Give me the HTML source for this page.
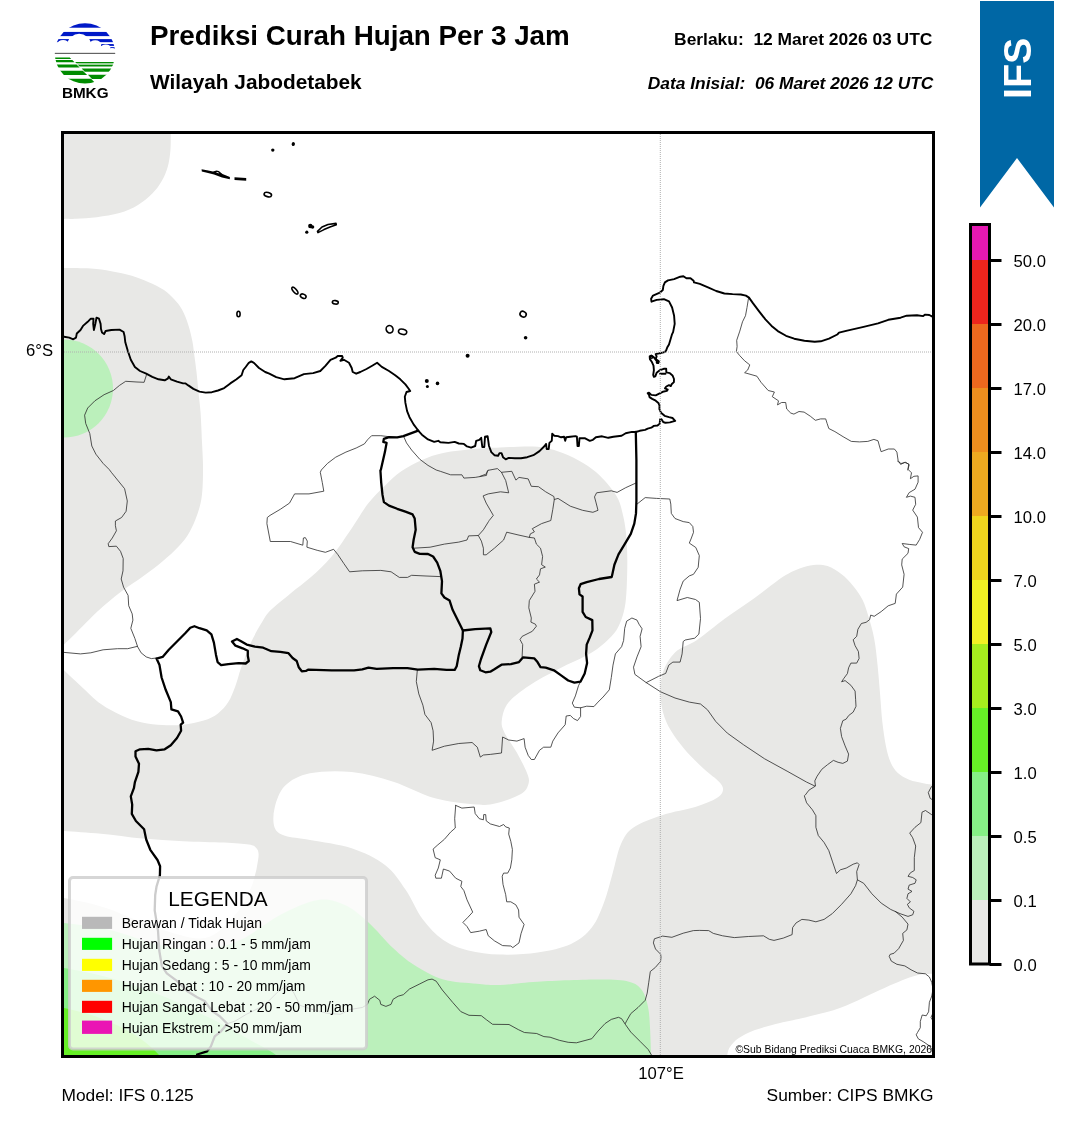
<!DOCTYPE html>
<html>
<head>
<meta charset="utf-8">
<title>Prediksi Curah Hujan Per 3 Jam</title>
<style>
html,body{margin:0;padding:0;background:#fff;}
body{width:1072px;height:1128px;overflow:hidden;font-family:"Liberation Sans",sans-serif;}
svg{display:block;}
text{font-family:"Liberation Sans",sans-serif;fill:#000;}
svg{will-change:transform;}
</style>
</head>
<body>
<svg width="1072" height="1128" viewBox="0 0 1072 1128">
<rect x="0" y="0" width="1072" height="1128" fill="#ffffff"/>

<!-- ===== HEADER TEXT ===== -->
<text x="150" y="45" font-size="27.78" font-weight="bold">Prediksi Curah Hujan Per 3 Jam</text>
<text x="150" y="88.7" font-size="20.83" font-weight="bold">Wilayah Jabodetabek</text>
<text x="932.4" y="44.6" font-size="17.42" font-weight="bold" text-anchor="end" xml:space="preserve">Berlaku:  12 Maret 2026 03 UTC</text>
<text x="933.4" y="89" font-size="17.36" font-weight="bold" font-style="italic" text-anchor="end" xml:space="preserve">Data Inisial:  06 Maret 2026 12 UTC</text>

<!-- ===== LOGO ===== -->
<g id="logo"><clipPath id="lgc"><circle cx="85.0" cy="53.4" r="30.2"/></clipPath>
<g clip-path="url(#lgc)">
<rect x="50.00" y="22.59" width="70.00" height="5.13" fill="#0019c8"/>
<rect x="50.00" y="31.92" width="70.00" height="4.20" fill="#0019c8"/>
<rect x="53.99" y="39.10" width="15.11" height="3.08" fill="#0019c8"/>
<rect x="88.97" y="39.10" width="31.03" height="3.08" fill="#0019c8"/>
<rect x="101.10" y="44.05" width="18.90" height="1.87" fill="#0019c8"/>
<rect x="109.96" y="47.13" width="10.04" height="1.59" fill="#0019c8"/>
<ellipse cx="79.20" cy="44.00" rx="11" ry="10.3" fill="#fff"/>
<ellipse cx="63.10" cy="44.60" rx="6" ry="4.6" fill="#fff"/>
<ellipse cx="95.20" cy="44.60" rx="6" ry="4.4" fill="#fff"/>
<ellipse cx="105.80" cy="47.80" rx="4.6" ry="3.4" fill="#fff"/>
<ellipse cx="112.00" cy="50.50" rx="3.5" ry="2.6" fill="#fff"/>
<polygon points="67.5,42.3 69.1,39.1 69.9,39.1 69.9,42.3" fill="#fff"/>
<polygon points="90.8,42.3 89.2,39.1 88.0,39.1 88.0,42.3" fill="#fff"/>
<rect x="50.00" y="52.82" width="70.00" height="1.12" fill="#5a5a5a"/>
<polygon points="50,57.57 69.77,57.57 71.27,59.07 50,59.07" fill="#008c00"/>
<polygon points="50,60.09 72.29,60.09 74.53,62.33 50,62.33" fill="#008c00"/>
<polygon points="50,64.38 76.58,64.38 79.66,67.46 50,67.46" fill="#008c00"/>
<polygon points="50,70.63 82.83,70.63 87.13,74.93 50,74.93" fill="#008c00"/>
<polygon points="50,78.84 91.04,78.84 96.83,84.63 50,84.63" fill="#008c00"/>
<polygon points="120,61.96 75.06,61.96 76.46,63.36 120,63.36" fill="#008c00"/>
<polygon points="120,63.54 76.64,63.54 77.95,64.85 120,64.85" fill="#7cc47c"/>
<polygon points="120,65.04 78.14,65.04 79.63,66.53 120,66.53" fill="#008c00"/>
<polygon points="120,68.58 81.68,68.58 84.76,71.66 120,71.66" fill="#008c00"/>
<polygon points="120,74.83 87.93,74.83 92.04,78.94 120,78.94" fill="#008c00"/>
</g>
<text x="85.2" y="97.7" font-size="15.28" font-weight="bold" text-anchor="middle">BMKG</text></g>

<!-- ===== BANNER ===== -->
<polygon points="980,1 1054,1 1054,207.5 1017,158 980,207.5" fill="#0067a5"/>
<text transform="translate(1030.6,68.3) rotate(-90)" font-size="39.5" font-weight="bold" text-anchor="middle" style="fill:#fff">IFS</text>

<!-- ===== MAP ===== -->
<g id="map">
<clipPath id="mapclip"><rect x="62.5" y="132.5" width="871" height="924"/></clipPath>
<g clip-path="url(#mapclip)" id="mapcontent">
<path d="M50.0,120.0C70.2,120.0 150.8,120.0 171.0,120.0C171.0,122.3 170.9,128.9 170.8,134.0C170.7,139.1 170.9,145.0 170.4,150.5C169.9,156.0 169.2,161.8 167.7,166.9C166.2,172.0 164.2,176.9 161.6,181.3C159.0,185.8 156.2,189.7 152.3,193.6C148.4,197.5 143.5,201.7 138.0,204.9C132.5,208.2 126.3,211.1 119.5,213.1C112.7,215.1 104.1,216.3 96.9,217.2C89.7,218.1 81.9,218.4 76.4,218.7C70.9,219.0 68.5,218.8 64.1,218.9C59.7,219.0 52.4,219.0 50.0,219.0C50.0,202.5 50.0,136.5 50.0,120.0Z" fill="#e8e8e6"/>
<path d="M50.0,268.0C52.3,268.0 57.2,267.9 64.0,268.0C70.8,268.1 82.9,268.0 90.8,268.5C98.7,269.0 104.5,270.0 111.3,271.2C118.1,272.4 125.7,273.9 131.8,275.7C138.0,277.5 142.8,279.5 148.2,281.9C153.6,284.3 159.7,287.1 164.0,290.0C168.3,292.9 171.0,295.8 174.0,299.0C177.0,302.2 179.6,305.2 182.0,309.5C184.4,313.8 186.6,319.6 188.3,324.9C190.0,330.2 191.4,336.2 192.4,341.3C193.4,346.4 193.7,350.6 194.4,355.7C195.1,360.8 195.8,366.0 196.5,372.1C197.2,378.2 197.8,385.8 198.5,392.6C199.2,399.4 200.0,404.9 200.6,413.1C201.2,421.3 201.6,433.2 202.0,441.9C202.4,450.5 202.9,457.5 203.0,465.0C203.1,472.5 203.0,480.3 202.6,486.7C202.2,493.1 201.8,497.6 200.6,503.1C199.4,508.6 197.6,514.0 195.4,519.5C193.2,525.0 190.6,530.8 187.2,535.9C183.8,541.0 179.7,545.5 174.9,550.3C170.1,555.1 164.0,560.2 158.5,564.7C153.0,569.2 147.6,573.1 142.1,577.0C136.6,580.9 130.8,584.5 125.7,588.3C120.6,592.0 116.1,595.6 111.3,599.5C106.5,603.4 101.7,607.4 96.9,611.9C92.1,616.4 87.0,621.8 82.6,626.2C78.2,630.6 73.4,635.5 70.3,638.5C67.2,641.5 67.4,641.2 64.0,644.5C60.6,647.8 52.3,655.8 50.0,658.0C50.0,593.0 50.0,333.0 50.0,268.0Z" fill="#e8e8e6"/>
<path d="M50.0,657.0C52.4,659.2 59.0,665.5 64.1,670.3C69.2,675.1 74.3,680.1 80.5,685.7C86.7,691.3 94.2,699.2 101.0,704.1C107.8,709.0 114.8,712.3 121.6,715.4C128.4,718.5 135.3,721.0 142.1,722.6C148.9,724.2 155.8,724.8 162.6,725.1C169.4,725.5 176.2,725.5 183.1,724.7C189.9,724.0 197.9,722.5 203.7,720.6C209.5,718.7 213.9,716.5 218.0,713.4C222.1,710.3 225.4,706.7 228.3,702.1C231.2,697.5 233.4,691.2 235.5,685.7C237.6,680.2 238.7,674.8 240.6,669.3C242.5,663.8 244.6,657.9 246.7,652.8C248.8,647.7 250.3,643.6 252.9,638.5C255.5,633.4 259.2,626.7 262.1,622.1C265.0,617.5 265.3,615.6 270.0,610.8C274.7,606.0 283.7,599.0 290.5,593.4C297.3,587.8 304.1,583.1 311.0,577.0C317.9,570.9 324.8,564.7 331.6,556.5C338.5,548.3 346.0,536.6 352.1,527.7C358.2,518.8 363.0,510.1 368.5,503.1C374.0,496.1 379.4,491.0 384.9,485.7C390.4,480.4 395.1,475.6 401.3,471.3C407.5,467.0 414.9,463.1 421.9,460.0C428.9,456.9 434.2,454.8 443.3,452.9C452.4,451.0 467.2,449.7 476.7,448.8C486.1,447.9 489.8,447.9 500.0,447.5C510.2,447.1 527.2,445.8 537.7,446.7C548.2,447.6 555.1,450.1 562.7,452.9C570.3,455.7 577.3,459.5 583.5,463.3C589.7,467.1 594.5,470.4 600.0,475.8C605.5,481.2 612.7,489.6 616.5,495.9C620.3,502.2 621.0,507.1 622.6,513.4C624.2,519.7 625.3,526.4 626.1,533.9C626.9,541.4 627.2,549.6 627.3,558.5C627.4,567.4 627.1,579.0 626.7,587.2C626.3,595.4 625.9,601.6 624.7,607.8C623.5,614.0 621.7,619.4 619.5,624.2C617.3,629.0 615.9,631.8 611.3,636.5C606.7,641.2 600.6,647.1 591.8,652.5C583.0,657.9 569.0,663.5 558.5,669.0C548.0,674.5 537.3,680.2 529.0,685.8C520.7,691.4 513.0,697.0 508.5,702.5C504.0,708.0 502.8,714.1 502.0,719.0C501.2,723.9 501.5,726.1 504.0,731.7C506.5,737.3 513.0,745.6 516.8,752.5C520.6,759.4 525.0,767.8 527.0,773.0C529.0,778.2 529.5,780.3 528.5,783.8C527.5,787.3 526.4,790.8 521.0,794.0C515.6,797.2 503.4,801.5 496.0,803.3C488.6,805.1 486.9,805.4 476.7,804.6C466.5,803.8 448.9,802.1 435.0,798.3C421.1,794.5 407.2,786.1 393.3,781.7C379.4,777.3 365.6,773.4 351.7,772.0C337.8,770.6 321.1,771.0 310.0,773.3C298.9,775.6 290.9,780.0 285.0,785.8C279.1,791.6 276.3,801.0 274.6,808.0C272.9,815.0 272.9,822.9 274.6,827.5C276.3,832.1 279.1,833.7 285.0,835.8C290.9,837.9 298.9,837.9 310.0,840.0C321.1,842.1 339.2,844.1 351.7,848.3C364.2,852.5 376.0,858.0 385.0,865.0C394.0,872.0 399.6,881.0 405.8,890.0C412.1,899.0 416.2,910.7 422.5,919.0C428.8,927.3 435.7,934.8 443.3,940.0C450.9,945.2 458.9,948.0 468.3,950.4C477.8,952.8 488.4,954.2 500.0,954.6C511.6,955.0 525.9,954.3 537.7,952.5C549.5,950.7 562.0,948.2 571.0,944.0C580.0,939.8 586.3,934.4 591.8,927.5C597.3,920.6 600.5,911.6 604.0,902.5C607.5,893.4 609.9,882.8 612.7,873.0C615.5,863.2 617.5,851.6 621.0,844.0C624.5,836.4 626.5,832.3 633.5,827.5C640.5,822.7 652.3,818.5 662.7,815.0C673.1,811.5 687.0,809.5 696.0,806.7C705.0,803.9 712.3,800.8 716.8,798.0C721.3,795.2 722.6,792.7 723.0,790.0C723.4,787.3 722.2,785.2 719.0,781.7C715.8,778.2 709.9,774.6 704.0,769.0C698.1,763.4 689.7,755.7 683.5,748.0C677.3,740.3 670.6,731.3 666.8,723.0C663.0,714.7 661.3,706.3 660.6,698.0C659.9,689.7 660.3,680.6 662.7,673.0C665.1,665.4 669.3,658.0 675.0,652.5C680.7,647.0 688.7,645.6 697.0,640.0C705.3,634.4 715.3,625.7 725.0,618.6C734.7,611.5 745.6,604.6 755.3,597.6C765.0,590.6 775.9,581.5 783.3,576.6C790.7,571.7 794.5,570.4 799.6,568.4C804.7,566.4 808.9,565.3 813.6,564.9C818.3,564.5 822.9,564.5 827.6,566.1C832.3,567.7 837.3,571.0 841.6,574.3C845.9,577.6 849.7,581.6 853.2,585.9C856.7,590.2 860.1,594.8 862.6,599.9C865.1,605.0 866.5,609.8 868.4,616.3C870.3,622.8 872.7,630.3 874.2,638.7C875.8,647.1 876.7,657.3 877.7,666.6C878.7,675.9 879.3,685.3 880.1,694.6C880.9,703.9 881.4,714.1 882.4,722.6C883.4,731.1 884.5,739.3 885.9,745.9C887.3,752.5 888.6,757.8 890.6,762.3C892.6,766.8 894.5,769.9 897.6,772.8C900.7,775.7 904.9,778.0 909.2,779.7C913.5,781.4 919.3,782.4 923.2,783.2C927.1,784.0 928.0,784.3 932.5,784.4C937.0,784.5 947.1,784.1 950.0,784.0C950.0,815.5 950.0,941.5 950.0,973.0C947.0,973.1 936.7,973.5 931.8,973.8C926.9,974.1 925.2,973.7 920.7,974.6C916.2,975.5 911.4,976.8 904.8,979.3C898.2,981.8 888.9,986.0 881.0,989.6C873.1,993.2 865.1,997.2 857.2,1000.7C849.3,1004.2 842.6,1007.4 833.4,1010.3C824.1,1013.2 810.6,1016.1 801.7,1018.2C792.8,1020.3 787.8,1020.9 780.0,1022.9C772.2,1024.9 761.9,1027.5 755.0,1030.0C748.1,1032.5 742.6,1035.5 738.5,1038.2C734.4,1041.0 732.2,1043.8 730.3,1046.5C728.4,1049.2 728.0,1050.8 727.3,1054.7C726.6,1058.6 726.2,1067.5 726.0,1070.0C613.3,1070.0 162.7,1070.0 50.0,1070.0C50.0,1001.2 50.0,725.8 50.0,657.0Z" fill="#e8e8e6"/>
<path d="M50.0,830.0C52.3,830.2 55.5,830.4 64.0,831.0C72.5,831.6 88.0,832.5 101.0,833.8C114.0,835.0 128.4,837.3 142.1,838.5C155.8,839.7 169.4,840.5 183.1,841.2C196.8,841.9 213.2,842.0 224.2,842.6C235.1,843.2 243.5,843.8 248.8,844.6C254.1,845.5 254.4,846.2 256.0,847.7C257.6,849.2 258.4,850.8 258.6,853.9C258.8,857.0 257.6,862.6 257.0,866.2C256.4,869.8 256.1,871.4 254.9,875.4C253.7,879.4 253.3,883.4 250.0,890.0C246.7,896.6 242.5,907.0 235.0,915.0C227.5,923.0 218.0,935.8 205.0,938.0C192.0,940.2 173.5,933.0 157.0,928.0C140.5,923.0 121.5,913.0 106.0,908.0C90.5,903.0 73.3,899.8 64.0,898.0C54.7,896.2 52.3,897.2 50.0,897.0C50.0,885.8 50.0,841.2 50.0,830.0Z" fill="#ffffff"/>
<path d="M50.0,922.0C52.3,922.2 54.0,921.7 64.0,923.0C74.0,924.3 94.0,926.3 110.0,930.0C126.0,933.7 145.0,941.7 160.0,945.0C175.0,948.3 186.7,950.8 200.0,950.0C213.3,949.2 226.7,945.8 240.0,940.0C253.3,934.2 267.0,921.7 280.0,915.0C293.0,908.3 307.2,901.7 318.0,900.0C328.8,898.3 336.7,901.3 345.0,905.0C353.3,908.7 359.9,914.8 368.0,922.0C376.1,929.2 385.6,941.1 393.3,948.3C401.0,955.5 405.9,959.8 414.2,965.0C422.5,970.2 432.9,976.5 443.3,979.6C453.7,982.7 467.2,982.9 476.7,983.8C486.1,984.7 489.8,985.4 500.0,985.0C510.2,984.6 521.0,982.6 537.7,981.7C554.4,980.8 584.8,979.6 600.0,979.6C615.2,979.6 622.0,980.0 629.0,981.7C636.0,983.4 638.6,985.8 641.8,990.0C645.0,994.2 646.6,1000.5 648.0,1006.7C649.4,1013.0 649.5,1019.5 650.0,1027.5C650.5,1035.5 650.8,1047.5 651.0,1054.6C651.2,1061.7 651.0,1067.4 651.0,1070.0C550.8,1070.0 150.2,1070.0 50.0,1070.0C50.0,1045.3 50.0,946.7 50.0,922.0Z" fill="#bbf0bb"/>
<path d="M50.0,967.0C52.3,967.2 54.0,966.2 64.0,968.0C74.0,969.8 94.0,973.5 110.0,978.0C126.0,982.5 143.3,988.3 160.0,995.0C176.7,1001.7 195.0,1010.5 210.0,1018.0C225.0,1025.5 239.0,1033.8 250.0,1040.0C261.0,1046.2 270.2,1050.0 276.0,1055.0C281.8,1060.0 283.5,1067.5 285.0,1070.0C245.8,1070.0 89.2,1070.0 50.0,1070.0C50.0,1052.8 50.0,984.2 50.0,967.0Z" fill="#86f086"/>
<path d="M50.0,1007.0C52.3,1007.2 55.7,1006.2 64.0,1008.0C72.3,1009.8 88.2,1013.5 100.0,1018.0C111.8,1022.5 125.2,1028.8 135.0,1035.0C144.8,1041.2 154.0,1049.2 159.0,1055.0C164.0,1060.8 164.0,1067.5 165.0,1070.0C145.8,1070.0 69.2,1070.0 50.0,1070.0C50.0,1059.5 50.0,1017.5 50.0,1007.0Z" fill="#66f026"/>
<ellipse cx="64" cy="388.5" rx="49" ry="49" fill="#bbf0bb"/>
<g fill="none" stroke="#2a2a2a" stroke-width="0.8" stroke-linejoin="round" stroke-linecap="round">
<path d="M146.6,374.5L144.1,382.3L137.0,382.0L125.7,381.3L119.5,385.4L113.4,390.5L104.1,394.7L94.9,400.8L87.7,408.0L84.6,415.2L85.7,423.4L89.8,433.6L91.8,446.0L95.9,454.2L103.1,463.4L109.3,469.6L111.3,472.3L124.6,488.7L127.3,501.0L126.1,511.3L121.6,517.5L115.4,521.0L115.4,525.7L116.4,530.8L112.3,538.0L108.2,543.7L108.8,546.6L116.4,546.2L120.5,551.3L123.2,558.5L123.0,570.8L121.2,579.0L123.6,587.2L128.1,595.4L128.7,605.7L132.2,613.9L132.9,620.1L130.8,628.3L134.9,638.5L137.6,646.7L141.1,652.8L146.2,656.9L151.3,658.6L156.5,658.0"/>
<path d="M389.0,436.7L380.8,435.7L371.6,435.7L367.5,439.8L364.4,443.9L356.2,448.0L345.9,452.1L335.7,457.2L327.5,463.4L321.3,470.0L320.3,472.3L322.3,482.6L323.8,491.2L309.0,493.9L294.6,493.9L289.5,503.1L280.3,509.3L270.0,515.4L267.3,517.5L266.9,523.6L270.3,541.5L280.0,541.5L290.5,541.5L302.8,545.2L303.4,538.0L305.3,537.6L307.3,541.1L306.9,547.2L317.2,550.3L325.4,552.3L333.6,549.3L337.7,554.4L343.9,563.6L349.6,571.8L362.3,570.8L380.8,570.4L391.1,571.8L399.3,577.4L407.5,577.4L411.6,575.3L426.0,576.0L440.3,576.6"/>
<path d="M403.8,436.7L406.5,442.9L411.6,450.0L419.8,459.3L428.0,465.4L436.2,470.0L440.3,471.3L450.6,474.8L461.9,474.8L463.9,478.1L475.2,477.4L486.5,475.4L487.1,471.3L488.2,470.3L497.4,468.6L501.5,472.3L511.8,471.3L515.9,480.1L519.0,477.4L528.2,478.9L531.3,486.3L538.5,486.7L545.7,491.8L553.9,496.5L554.3,499.5L558.0,498.4L570.3,506.2L582.6,510.3L592.9,512.3L598.0,510.3L595.9,502.1L594.5,496.9L596.6,492.8L611.3,490.8L617.1,492.4L625.7,487.7L636.0,483.0"/>
<path d="M748.6,297.6L747.0,307.5L745.5,315.7L742.5,321.8L739.8,331.1L736.7,340.3L737.1,346.5L736.4,351.6L739.8,355.7L744.6,360.8L749.8,364.9L747.7,370.0L744.6,372.7L756.9,376.2L761.0,382.3L768.2,390.5L774.4,392.0L772.3,396.7L778.5,400.8L777.5,404.9L781.6,402.5L785.7,402.5L786.7,409.0L790.8,413.1L793.9,414.1L799.0,411.5L804.1,412.1L810.3,416.2L815.4,420.3L820.6,418.9L825.7,418.9L827.1,423.4L828.8,428.5L834.9,431.6L843.1,436.7L851.3,441.4L859.5,441.9L867.8,441.4L873.9,439.4L878.0,440.8L879.7,447.0L881.1,451.7L888.3,449.0L894.4,449.0L896.9,452.1L898.1,460.3L900.6,464.4L904.7,462.4L908.8,464.0L907.8,470.0"/>
<path d="M64.1,652.4L80.5,653.9L90.8,652.8L103.1,649.8L117.5,648.7L127.7,648.7L137.6,646.3"/>
<path d="M480.0,476.4L486.2,474.0L488.2,470.3"/>
<path d="M413.6,548.2L430.1,547.2L444.4,544.1L458.8,542.1L467.0,540.0L468.6,535.9L478.3,535.5L483.4,529.8L488.5,521.6L489.2,520.5L493.3,515.4L486.2,503.1L483.1,495.9L488.2,493.9L500.5,491.8L508.7,492.8L505.7,480.5L501.5,472.3"/>
<path d="M478.3,535.5L481.4,541.1L483.4,548.2L483.4,554.8L486.2,554.8L494.4,548.2L503.6,540.0L506.7,532.2L518.0,534.9L529.3,537.4"/>
<path d="M554.3,499.5L552.8,509.3L550.8,520.5L541.6,523.6L532.3,528.7L534.4,531.8L530.3,533.9L529.3,537.4L534.4,538.0L536.4,544.1L540.5,548.2L542.6,556.5L541.6,564.7L545.3,567.1L540.5,568.8L539.5,574.9L536.4,579.0L539.5,582.1L534.4,584.2L535.0,591.3L529.3,600.6L528.8,607.8L531.3,618.0L530.9,622.1L535.4,624.2L536.4,626.2L532.3,631.3L522.1,636.4L520.0,639.5L522.7,644.6L522.1,656.9"/>
<path d="M637.0,504.1L645.2,497.6L656.5,498.4L669.8,499.0L670.8,504.1L671.3,513.4L675.0,518.5L683.2,521.6L689.3,522.6L692.8,526.5L693.5,532.3L691.4,538.0L689.3,543.1L695.8,547.5L699.3,555.6L698.2,567.3L693.5,574.3L689.3,575.9L683.2,581.1L680.1,589.3L677.0,600.6L687.3,597.5L695.5,599.5L699.3,602.3L700.5,618.6L698.9,634.0L694.7,638.2L685.2,640.0L683.2,641.5L682.1,653.9L680.1,662.1L672.9,662.1L668.8,665.1L665.7,673.4L658.5,676.4L646.2,682.6"/>
<path d="M580.1,682.6L578.5,685.7L575.4,695.9L572.3,703.1L574.4,707.2L580.6,707.8L586.7,706.2L593.9,706.6L598.0,702.1L603.1,697.0L609.3,689.8L611.3,677.5L613.0,665.1L615.4,653.9L621.6,646.7L623.6,640.5L624.7,628.3L626.7,621.1L631.9,618.0L637.0,620.1L639.0,624.2L642.1,628.8L640.1,636.4L641.1,646.7L637.0,656.9L633.5,667.2L634.9,674.4L646.2,682.6L660.6,691.8L675.0,698.0L689.3,702.1L700.5,704.0L707.5,709.8L715.7,721.4L727.3,733.1L743.6,744.8L764.6,758.8L787.9,771.6L806.6,782.1L814.8,786.0"/>
<path d="M580.6,707.8L580.6,716.5L577.5,720.6L573.4,718.5L570.3,715.4L566.2,716.0L565.2,724.7L558.0,732.9L552.8,741.1L550.8,747.2L543.6,747.2L539.5,750.3L534.4,759.5L531.3,759.5L528.2,755.4L525.1,747.2L524.1,738.6L516.9,741.1L508.7,740.0L502.6,737.0L501.5,753.0L490.3,754.4L483.4,755.0L480.3,757.1L477.3,747.2L472.1,742.5L458.8,743.5L444.4,746.2L432.1,750.3L433.6,741.1L433.1,730.8L431.1,722.6L424.9,714.4L422.9,705.2L418.8,693.9L416.3,681.6L417.3,670.3"/>
<path d="M897.6,461.2L901.0,463.5L905.7,462.3L909.2,464.7L908.0,469.3L911.5,472.8L910.4,478.7L913.9,476.3L918.1,475.9L918.1,482.2L915.0,489.2L909.2,492.6L906.4,497.3L910.4,496.1L915.0,497.3L915.7,504.3L912.7,510.1L917.4,517.1L918.5,527.6L922.5,532.3L919.7,539.3L916.2,545.1L909.2,544.4L902.2,543.5L904.1,546.8L908.7,548.6L908.0,553.3L902.2,559.1L901.7,564.9L904.1,574.3L902.7,587.1L896.4,594.1L895.2,603.4L888.2,605.8L881.2,611.6L874.2,616.3L870.7,615.1L869.6,619.7L866.1,622.3L861.4,623.5L857.9,629.3L856.7,636.3L853.2,639.8L855.1,645.7L858.4,651.5L859.1,658.5L856.7,663.1L850.9,663.1L848.6,667.8L847.4,673.6L843.9,678.3L841.6,681.8L845.1,680.6L850.9,685.3L855.1,691.1L855.6,699.3L856.0,706.3L853.2,712.1L848.6,715.6L846.2,719.1L842.8,720.7L840.4,728.4L841.6,736.6L845.1,745.9L848.6,754.1L847.4,761.1L842.8,763.4L838.1,762.3L833.4,760.4L827.6,764.6L821.8,769.3L817.1,776.2L814.8,780.9L815.5,786.0L808.9,790.2L805.4,794.9L804.3,795.8L806.6,802.8L812.4,809.8L815.9,815.7L815.9,827.3L818.3,835.5L824.1,842.5L828.8,850.6L832.3,861.1L836.5,873.5L840.4,869.8L846.2,868.1L853.2,864.2L857.4,862.8L859.1,864.6L856.7,871.6L857.4,879.8L855.6,885.6L850.9,893.8L841.6,904.3L832.3,913.6L824.1,919.4L815.9,921.8L808.9,920.1L801.9,919.4L796.1,922.9L792.6,927.6L792.1,934.6L783.3,938.1L774.0,940.4L769.3,939.3L763.5,935.8L748.3,936.5L734.3,937.6L722.6,935.8L713.3,933.4L708.7,930.6L699.3,930.4L693.4,930.6L683.2,933.2L671.9,937.3L662.6,936.1L654.4,938.8L653.4,942.9L655.5,949.0L660.6,954.2L661.0,957.0L660.6,961.3L655.4,967.4L650.3,971.5L648.7,982.8L647.2,993.1L645.2,1000.3L638.0,1007.5L630.8,1013.6L626.7,1020.8L625.3,1023.5"/>
<path d="M857.4,879.8L863.7,883.3L871.9,893.8L881.2,903.1L890.6,909.4L899.9,913.6L908.0,916.4L912.7,914.8L913.9,911.3L909.2,907.8L907.4,904.3L910.4,901.9L906.9,898.4L908.0,893.8L912.0,891.4L908.0,889.1L909.2,885.1L915.0,883.3L916.2,879.8L912.7,877.5L908.0,876.3L910.4,872.8L914.3,870.5L914.3,857.6L915.7,846.0L912.7,837.8L909.7,833.1L915.0,827.3L920.9,822.6L922.0,812.2L925.5,810.5L931.4,814.5L936.0,817.0"/>
<path d="M895.2,911.3L902.2,917.1L908.0,924.1L906.9,929.9L902.7,933.4L903.4,940.4L898.7,948.6L894.1,953.2L890.1,954.4L889.2,956.3L891.3,961.1L896.9,964.3L904.8,965.9L911.1,969.8L917.5,973.0L925.4,973.8L929.4,977.0L931.8,982.5L933.0,989.0L931.8,996.0L929.4,1002.3L928.6,1011.8L926.2,1015.8L922.2,1015.0L920.3,1021.4L920.3,1027.7L917.5,1032.5L916.2,1034.8L918.3,1038.8L923.8,1042.0L929.4,1045.9L931.8,1049.1L934.0,1053.0"/>
<path d="M933.0,786.0L931.4,786.7L928.3,792.6L930.2,798.4L933.0,800.0"/>
<path d="M933.0,1013.0L931.0,1017.4L933.0,1021.0"/>
<path d="M350.0,1009.5L362.3,1007.5L367.4,1004.4L369.5,999.3L374.6,996.2L379.8,1000.3L380.8,1004.4L385.9,1006.4L391.0,1004.4L393.1,999.3L398.2,996.2L403.4,994.7L409.5,989.0L419.8,983.9L428.0,979.8L432.1,979.1L436.2,981.2L442.3,990.0L452.6,1002.3L460.8,1011.6L469.0,1015.3L481.3,1015.7L486.5,1019.8L492.6,1024.3L509.0,1024.5L518.3,1029.6L524.4,1032.5L536.7,1033.5L543.9,1036.6L550.1,1037.2L559.3,1040.3L568.2,1042.3L576.4,1042.8L591.8,1038.7L598.0,1031.1L605.1,1023.5L611.3,1019.4L618.5,1017.3L621.6,1018.7L625.7,1024.9L630.8,1032.1L640.0,1041.3L648.2,1049.5L651.3,1054.7"/>
<path d="M350.0,1009.5L340.4,1014.3L327.0,1013.2L313.6,1009.8L300.1,1005.4L293.4,992.0L286.0,986.0"/>
<path d="M286.0,986.0L277.7,992.0L264.3,1005.4L246.4,1014.3L235.2,1021.0L227.3,1023.7"/>
<path d="M455.7,805.4L461.9,808.1L474.2,807.0L475.2,813.6L479.3,818.7L483.4,819.8L483.7,814.6L485.7,814.6L486.2,820.8L490.3,823.9L499.5,826.5L503.6,824.5L505.7,826.9L509.3,828.0L508.7,834.1L510.8,841.3L512.4,849.5L511.8,859.8L510.4,868.0L507.7,873.1L503.6,873.1L502.2,876.2L503.0,884.4L505.7,894.7L506.7,901.8L510.8,901.8L515.9,904.9L518.6,910.0L519.0,917.2L524.1,924.4L521.0,933.7L519.0,942.9L512.8,947.6L510.8,946.0L502.6,945.6L494.4,940.8L488.2,935.7L486.2,929.5L479.3,931.2L470.7,932.6L467.0,926.5L462.9,922.4L468.0,917.2L472.7,912.1L467.0,899.8L463.9,890.6L460.8,886.5L461.9,881.3L455.7,878.2L449.6,871.1L443.4,869.0L441.4,878.2L435.8,878.2L435.2,875.2L438.3,868.0L440.3,859.8L435.2,857.7L433.1,849.1L437.2,845.4L444.4,839.3L450.6,832.1L455.3,828.0L454.7,818.7L455.7,805.4"/>
</g>
<g fill="none" stroke="#000" stroke-width="2.3" stroke-linejoin="round" stroke-linecap="round">
<path d="M418.2,430.6L403.4,436.1L397.2,437.3L389.0,437.1L383.9,438.8L383.3,441.9L386.6,442.9L384.9,452.1L382.5,462.4L380.8,470.0L380.4,470.3L381.2,482.6L382.5,494.9L383.9,502.1L389.0,505.6L397.2,508.8L405.4,511.7L412.6,514.4L414.7,518.5L415.7,529.8L413.6,540.0L412.6,547.2L414.7,551.9L419.8,553.8L428.0,554.0L433.1,556.5L437.2,562.6L440.3,570.8L442.0,581.1L441.4,593.4L444.4,597.5L449.6,600.6L452.6,609.8L456.7,618.0L460.8,626.2L462.9,630.5L462.5,638.5L460.8,646.7L458.8,654.9L456.7,666.2L454.7,669.9L446.5,669.9L434.2,668.8L417.8,669.7L407.5,668.2L393.1,668.2L376.7,668.8L368.5,667.6L362.3,669.3L354.1,670.3L331.6,670.3L308.0,669.7L305.9,670.9L301.8,671.3L298.7,667.2L296.7,661.0L292.6,658.0L288.5,653.2L280.3,651.8L271.4,651.2L263.2,647.7L254.9,646.7L246.7,644.6L240.6,640.9L236.9,638.9L232.0,641.5L235.5,645.7L242.6,648.3L247.8,650.8L247.8,655.9L248.8,661.0L245.7,663.5L238.5,663.1L228.3,664.1L221.1,665.1L217.6,662.1L216.0,654.9L213.9,642.6L211.4,634.4L206.7,630.3L199.5,628.2L194.4,626.2L190.3,627.8L185.2,633.3L177.0,641.5L168.8,649.8L162.6,656.9L156.5,658.6L159.5,665.1L161.6,677.5L165.7,689.8L170.8,702.1L171.4,709.3L178.0,711.3L181.1,716.5L183.1,722.6L180.7,724.7L181.1,730.8L177.0,738.0L170.8,745.2L164.7,749.3L156.5,750.3L148.2,748.9L140.0,749.3L135.5,751.3L135.5,756.5L139.0,763.7L138.4,771.9L134.9,782.1L133.9,788.2L130.8,796.4L132.2,804.6L131.8,813.9L135.9,821.0L144.1,829.3L146.2,839.5L150.3,849.8L157.5,860.0L160.1,866.2L159.9,875.4L156.5,886.7L155.2,895.0L154.7,910.4L158.0,930.5L159.3,950.7L161.8,965.8L166.8,973.3L176.9,980.9L187.0,991.0L197.1,997.3L204.6,1001.0L212.2,1011.1L219.7,1016.2L227.3,1023.7L221.0,1031.3L214.7,1036.3L210.9,1046.4L207.1,1051.4L197.1,1054.5"/>
<path d="M462.9,630.5L475.2,629.2L490.3,628.4L491.3,632.0L486.2,644.6L481.0,659.0L478.9,666.2L480.3,670.3L485.5,672.3L490.3,671.7L494.4,669.3L501.5,664.7L510.8,664.1L519.0,662.1L523.1,657.3L534.4,658.4L537.5,662.1L540.5,667.2L545.7,667.6L553.9,670.3L561.1,675.4L568.2,680.5L574.4,682.6L580.6,681.6L584.7,673.4L587.1,663.1L586.1,653.9L586.7,644.6L589.8,637.4L592.5,630.3L592.3,620.1L585.7,617.0L582.6,611.9L582.6,596.5L579.5,594.4L578.9,588.3L580.6,584.2L586.7,582.1L599.0,579.0L611.7,577.0L612.4,573.9L614.4,564.7L618.5,554.4L624.7,544.1L630.8,533.9L634.3,523.6L636.0,513.4L636.4,501.0L636.4,460.0L635.8,432.0"/>
</g>
<g fill="none" stroke="#000" stroke-width="1.9" stroke-linejoin="round" stroke-linecap="round">
<path d="M61.0,336.5L64.1,336.8L69.2,337.6L73.3,339.3L76.0,337.6L76.8,333.5L80.5,330.0L83.0,325.9L87.7,321.8L90.8,318.7L93.5,318.7L93.2,324.0L93.9,330.0L95.3,324.0L96.5,317.7L99.0,318.7L100.6,323.9L101.0,329.0L102.0,332.5L104.1,334.1L105.6,331.0L111.3,330.0L119.5,329.6L123.6,332.0L124.6,336.2L125.3,342.3L127.7,350.5L130.8,359.8L134.9,367.0L140.0,371.0L146.2,373.7L152.3,376.8L158.5,379.3L164.7,380.3L167.7,378.7L168.8,376.6L170.8,379.3L177.0,381.7L183.1,383.4L185.6,383.4L188.3,385.4L193.4,388.9L199.5,391.6L205.7,392.6L211.9,392.2L218.0,390.5L224.2,388.1L230.3,383.4L236.5,379.3L241.6,375.2L243.3,370.0L245.7,367.0L248.8,362.8L251.3,361.4L253.9,362.8L259.0,368.0L265.2,372.0L269.3,373.7L276.2,377.2L284.4,379.3L294.6,378.2L303.9,374.1L313.1,373.1L320.3,371.0L325.4,365.9L330.5,359.8L335.7,357.7L337.7,356.0L342.2,356.0L342.8,357.7L340.4,360.8L343.9,359.8L349.0,362.8L351.7,368.0L352.7,372.0L356.2,373.7L360.3,372.0L366.5,369.0L372.6,365.5L377.1,362.8L381.8,366.9L389.0,371.0L395.2,375.2L400.3,379.3L405.4,384.4L408.5,388.5L410.2,391.0L406.5,392.0L404.8,396.7L405.4,402.9L407.1,411.1L409.5,417.2L413.6,424.4L416.7,428.5L418.2,430.6L421.9,434.7L428.0,439.4L434.2,441.9L438.3,440.8L440.3,442.3L448.5,442.9L454.7,441.9L458.8,443.5L463.9,443.9L467.0,446.4L471.1,447.6L475.2,446.0L476.2,440.8L479.3,439.8L481.2,437.8L482.3,447.0L484.3,447.0L485.0,436.7L487.6,436.1L489.0,446.0L491.3,452.1L494.4,455.2L498.1,455.8L499.5,453.1L501.5,453.1L503.0,457.2L505.7,459.3L508.7,457.9L514.9,458.3L521.0,458.3L527.2,457.2L533.4,455.2L539.5,451.1L544.6,446.0L546.1,443.9L546.7,449.0L548.7,449.0L549.4,442.9L551.8,440.8L552.2,433.7L554.3,435.7L558.0,436.1L561.1,437.3L564.1,436.7L565.2,440.8L566.2,437.3L570.3,436.7L575.4,436.1L576.9,436.7L577.5,446.0L578.9,446.0L579.5,438.2L584.7,438.2L589.8,440.8L592.9,439.8L595.9,437.3L602.1,436.3L608.3,437.8L613.4,436.7L621.6,435.7L625.7,433.2L631.9,431.9L635.8,432.0L639.7,430.8L645.1,429.9L647.7,428.6L651.3,427.7L653.9,425.9L657.5,425.5L659.7,423.7L660.1,419.3L661.5,419.3L663.2,422.0L665.4,422.8L669.9,422.4L675.2,420.8L672.5,418.0L669.0,417.1L664.6,415.8L661.0,412.7L659.4,409.1L659.5,405.6L658.4,402.9L655.7,400.7L652.2,398.9L649.5,397.1L649.0,394.9L647.7,393.2L649.0,392.7L651.3,394.9L655.7,395.4L659.2,393.6L662.8,391.8L666.8,390.9L667.7,389.6L665.0,388.3L666.3,386.5L669.0,385.2L670.8,386.1L671.6,384.3L673.9,382.1L674.0,379.0L672.5,375.4L669.9,373.2L666.3,372.3L666.2,368.8L663.7,368.8L660.1,370.1L656.6,372.8L655.3,376.3L653.9,376.8L653.2,375.0L653.9,370.1L653.5,365.7L651.7,361.7L649.9,359.1L649.7,356.4L651.3,355.5L653.9,357.3L656.6,360.8L658.2,363.0L658.8,361.3L655.7,359.1L656.6,356.4L655.7,354.2L659.2,353.3L663.7,352.4L665.9,351.1L667.2,347.5L669.0,344.4L672.1,334.1L673.1,332.1L674.7,323.9L674.1,315.7L672.1,307.5L669.0,301.3L663.9,299.2L656.7,299.9L651.5,301.7L651.1,298.8L653.0,295.6L659.8,292.7L662.8,290.0L663.4,285.9L664.9,282.4L668.0,280.4L674.1,279.1L680.3,276.7L683.4,276.3L686.4,278.3L690.5,278.3L693.6,280.8L694.0,282.4L699.8,283.9L708.0,287.3L716.2,291.0L724.4,293.5L732.6,294.1L740.8,294.5L745.9,295.6L749.0,297.6L753.1,303.4L759.3,311.6L765.4,319.4L771.6,325.9L777.8,331.1L786.0,335.8L794.2,338.7L804.4,340.7L814.7,341.7L820.8,341.3L829.0,338.7L837.3,334.5L839.0,332.7L847.2,330.6L863.6,326.9L878.0,323.4L888.3,319.8L900.6,317.7L906.7,315.7L917.0,315.2L923.2,316.1L925.2,314.6L929.3,315.0L932.4,316.7L936.0,318.0"/>
<path d="M660.1,373.7L665.5,373.7"/>
<ellipse cx="238.5" cy="314" rx="1.6" ry="2.8" transform="rotate(0 238.5 314)" stroke-width="1.6"/>
<ellipse cx="303.2" cy="296.2" rx="3" ry="2" transform="rotate(25 303.2 296.2)" stroke-width="1.6"/>
<ellipse cx="335.3" cy="302.3" rx="3" ry="1.7" transform="rotate(10 335.3 302.3)" stroke-width="1.6"/>
<ellipse cx="389.6" cy="329.2" rx="3.4" ry="3.8" transform="rotate(-20 389.6 329.2)" stroke-width="1.6"/>
<ellipse cx="402.6" cy="331.8" rx="4.2" ry="2.6" transform="rotate(15 402.6 331.8)" stroke-width="1.6"/>
<ellipse cx="267.8" cy="194.6" rx="3.8" ry="2.1" transform="rotate(15 267.8 194.6)" stroke-width="1.6"/>
<ellipse cx="294.9" cy="290.6" rx="4.2" ry="1.7" transform="rotate(50 294.9 290.6)" stroke-width="1.6"/>
<ellipse cx="523.1" cy="314.2" rx="3.2" ry="2.7" transform="rotate(30 523.1 314.2)" stroke-width="1.6"/>
<ellipse cx="651.5" cy="357.1" rx="1.2" ry="1.2" transform="rotate(0 651.5 357.1)" stroke-width="1.6"/>
<ellipse cx="657.6" cy="362.2" rx="1.1" ry="1.1" transform="rotate(0 657.6 362.2)" stroke-width="1.6"/>
<path d="M317.5,231.4L322.0,227.0L328.0,224.5L336.0,223.4L336.3,224.8L330.0,227.0L324.0,229.6L318.0,232.6Z" stroke-width="1.6"/>
</g>
<g fill="#000">
<path d="M201.6,169.3L207.0,170.2L213.0,171.5L216.5,170.6L218.8,171.0L222.5,174.0L229.9,177.0L229.8,179.3L222.0,177.4L214.0,174.6L207.0,172.8L201.8,171.4Z"/>
<path d="M234.5,177.3L246.2,178.0L246.2,180.7L234.5,180.0Z"/>
<path d="M215.6,172.3L218.0,172.0L219.3,173.4Z" fill="#fff"/>
<circle cx="467.6" cy="355.7" r="2"/>
<circle cx="426.8" cy="380.9" r="2"/>
<circle cx="427.4" cy="386.5" r="1.5"/>
<circle cx="437.5" cy="383.4" r="1.8"/>
<circle cx="293.3" cy="143.6" r="1.5"/>
<circle cx="293.2" cy="144.6" r="1.5"/>
<circle cx="272.8" cy="150.1" r="1.7"/>
<circle cx="525.6" cy="337.8" r="1.8"/>
<circle cx="306.8" cy="232.2" r="1.6"/>
<circle cx="310.3" cy="226" r="2.2"/>
<circle cx="312.5" cy="227" r="1.8"/>
</g>
</g>
<!-- gridlines -->
<line x1="64" y1="352" x2="932" y2="352" stroke="#b0b0b0" stroke-width="1" stroke-dasharray="1,1"/>
<line x1="660.3" y1="134" x2="660.3" y2="1055" stroke="#b0b0b0" stroke-width="1" stroke-dasharray="1,1"/>
<rect x="69.5" y="877.5" width="297" height="171.5" rx="3.5" ry="3.5" fill="#ffffff" fill-opacity="0.8" stroke="#cccccc" stroke-opacity="0.8" stroke-width="3"/>
<text x="218" y="905.8" font-size="20.83" text-anchor="middle">LEGENDA</text>
<rect x="82" y="916.80" width="30.1" height="12.1" fill="#b9b9b9"/>
<text x="121.8" y="927.50" font-size="13.95">Berawan / Tidak Hujan</text>
<rect x="82" y="937.80" width="30.1" height="12.1" fill="#00ff00"/>
<text x="121.8" y="948.60" font-size="13.95">Hujan Ringan : 0.1 - 5 mm/jam</text>
<rect x="82" y="958.80" width="30.1" height="12.1" fill="#ffff00"/>
<text x="121.8" y="969.70" font-size="13.95">Hujan Sedang : 5 - 10 mm/jam</text>
<rect x="82" y="979.80" width="30.1" height="12.1" fill="#ff9600"/>
<text x="121.8" y="990.80" font-size="13.95">Hujan Lebat : 10 - 20 mm/jam</text>
<rect x="82" y="1000.80" width="30.1" height="12.1" fill="#ff0000"/>
<text x="121.8" y="1011.90" font-size="13.95">Hujan Sangat Lebat : 20 - 50 mm/jam</text>
<rect x="82" y="1020.60" width="30.1" height="13.3" fill="#ea14b4"/>
<text x="121.8" y="1033.00" font-size="13.95">Hujan Ekstrem : &gt;50 mm/jam</text>
<text x="932" y="1053" font-size="10.4" text-anchor="end">©Sub Bidang Prediksi Cuaca BMKG, 2026</text>
<rect x="62.5" y="132.5" width="871" height="924" fill="none" stroke="#000" stroke-width="3"/>
</g>

<!-- axis labels -->
<text x="53" y="356.4" font-size="16.67" text-anchor="end">6°S</text>
<text x="661" y="1078.9" font-size="16.67" text-anchor="middle">107°E</text>
<text x="61.5" y="1100.6" font-size="17.36">Model: IFS 0.125</text>
<text x="933.5" y="1100.7" font-size="17.36" text-anchor="end">Sumber: CIPS BMKG</text>

<!-- ===== COLORBAR ===== -->
<g id="cbar">
<rect x="970.5" y="224.50" width="19" height="36.10" fill="#e619b3"/>
<rect x="970.5" y="260.00" width="19" height="64.60" fill="#ee251d"/>
<rect x="970.5" y="324.00" width="19" height="64.60" fill="#ee681e"/>
<rect x="970.5" y="388.00" width="19" height="64.60" fill="#ee8e1e"/>
<rect x="970.5" y="452.00" width="19" height="64.60" fill="#eda920"/>
<rect x="970.5" y="516.00" width="19" height="64.60" fill="#efd51e"/>
<rect x="970.5" y="580.00" width="19" height="64.60" fill="#f2f224"/>
<rect x="970.5" y="644.00" width="19" height="64.60" fill="#a6ee1e"/>
<rect x="970.5" y="708.00" width="19" height="64.60" fill="#66f026"/>
<rect x="970.5" y="772.00" width="19" height="64.60" fill="#86f086"/>
<rect x="970.5" y="836.00" width="19" height="64.60" fill="#bbf0bb"/>
<rect x="970.5" y="900.00" width="19" height="64.60" fill="#e8e8e6"/>
<rect x="970.5" y="224.5" width="19" height="739.50" fill="none" stroke="#000" stroke-width="3"/>
<line x1="989.5" y1="260.50" x2="1001.5" y2="260.50" stroke="#000" stroke-width="3"/>
<text x="1013.6" y="266.70" font-size="16.67">50.0</text>
<line x1="989.5" y1="324.50" x2="1001.5" y2="324.50" stroke="#000" stroke-width="3"/>
<text x="1013.6" y="330.70" font-size="16.67">20.0</text>
<line x1="989.5" y1="388.50" x2="1001.5" y2="388.50" stroke="#000" stroke-width="3"/>
<text x="1013.6" y="394.70" font-size="16.67">17.0</text>
<line x1="989.5" y1="452.50" x2="1001.5" y2="452.50" stroke="#000" stroke-width="3"/>
<text x="1013.6" y="458.70" font-size="16.67">14.0</text>
<line x1="989.5" y1="516.50" x2="1001.5" y2="516.50" stroke="#000" stroke-width="3"/>
<text x="1013.6" y="522.70" font-size="16.67">10.0</text>
<line x1="989.5" y1="580.50" x2="1001.5" y2="580.50" stroke="#000" stroke-width="3"/>
<text x="1013.6" y="586.70" font-size="16.67">7.0</text>
<line x1="989.5" y1="644.50" x2="1001.5" y2="644.50" stroke="#000" stroke-width="3"/>
<text x="1013.6" y="650.70" font-size="16.67">5.0</text>
<line x1="989.5" y1="708.50" x2="1001.5" y2="708.50" stroke="#000" stroke-width="3"/>
<text x="1013.6" y="714.70" font-size="16.67">3.0</text>
<line x1="989.5" y1="772.50" x2="1001.5" y2="772.50" stroke="#000" stroke-width="3"/>
<text x="1013.6" y="778.70" font-size="16.67">1.0</text>
<line x1="989.5" y1="836.50" x2="1001.5" y2="836.50" stroke="#000" stroke-width="3"/>
<text x="1013.6" y="842.70" font-size="16.67">0.5</text>
<line x1="989.5" y1="900.50" x2="1001.5" y2="900.50" stroke="#000" stroke-width="3"/>
<text x="1013.6" y="906.70" font-size="16.67">0.1</text>
<line x1="989.5" y1="964.50" x2="1001.5" y2="964.50" stroke="#000" stroke-width="3"/>
<text x="1013.6" y="970.70" font-size="16.67">0.0</text>
</g>
</svg>
</body>
</html>
